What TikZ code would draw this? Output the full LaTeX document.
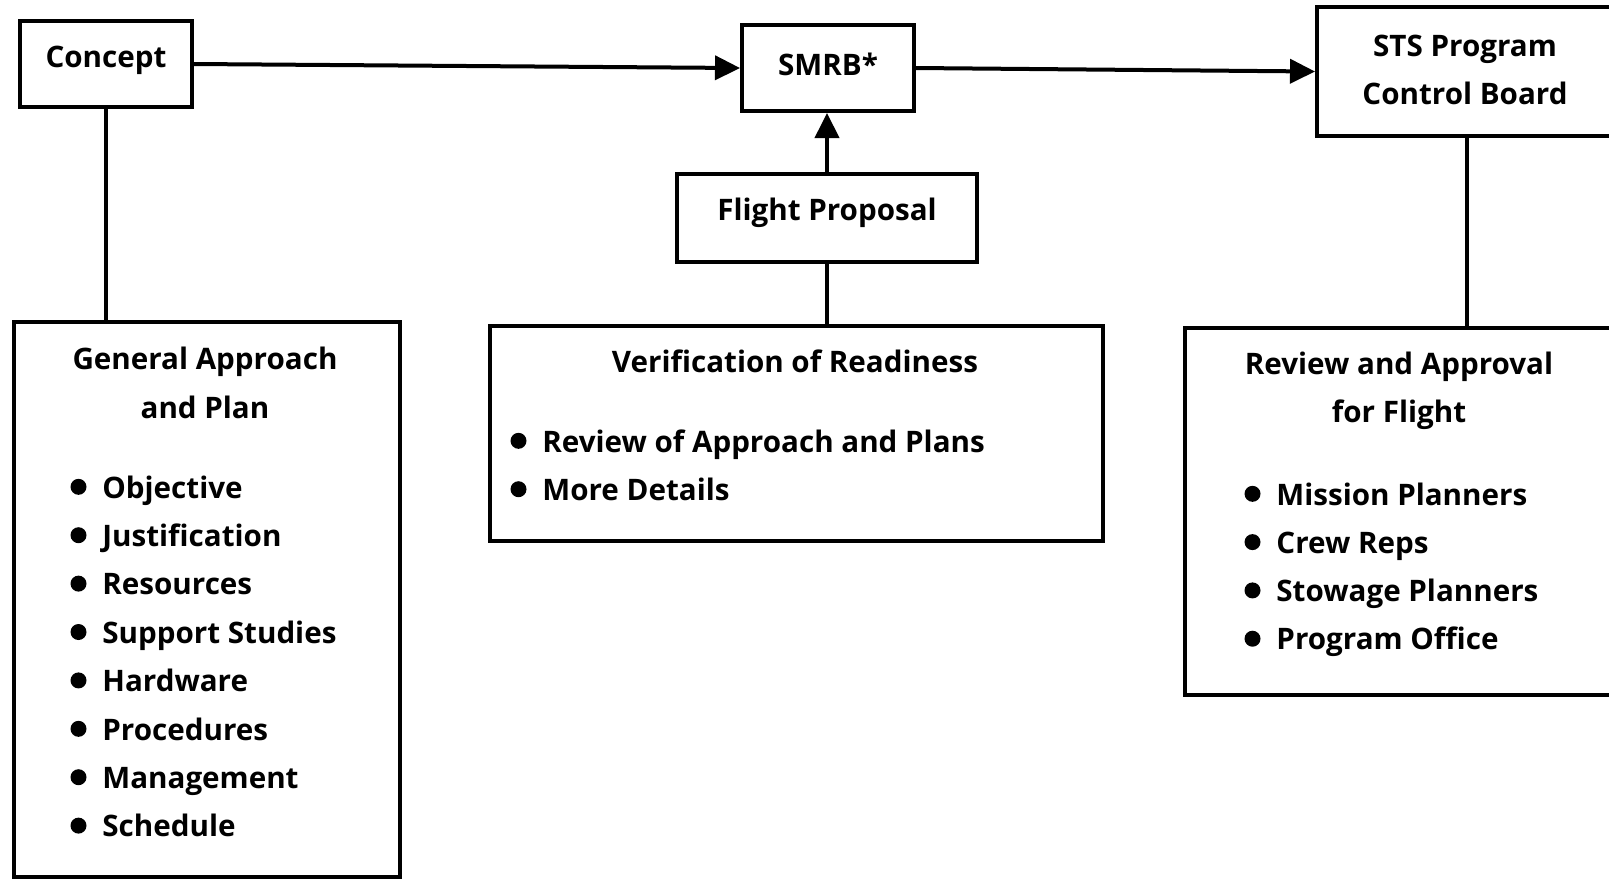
\documentclass[tikz,border=0pt]{standalone}
\usepackage{fontspec}
\setmainfont{Open Sans}
\usetikzlibrary{arrows.meta}

\begin{document}
\begin{tikzpicture}[x=0.5pt, y=-0.5pt,
  boxnode/.style={draw, line width=2pt, inner sep=0pt},
  lbl/.style={font=\fontsize{14.8}{24.2}\selectfont\bfseries, inner sep=0pt},
  item/.style={lbl, anchor=base west},
  flow/.style={line width=2pt, -{Triangle[length=12.5pt, width=12pt]}},
  link/.style={line width=2pt}]
\useasboundingbox (0,0) rectangle (1609,879);
\clip (0,0) rectangle (1609,879);

% Top row boxes
\node[boxnode, minimum width=86pt, minimum height=43pt] (concept) at (106,64) {};
\node[lbl] (concepttxt) at (106,60) {Concept};
\node[boxnode, minimum width=86pt, minimum height=43pt] (smrb) at (828,68) {};
\node[lbl] (smrbtxt) at (828,64) {SMRB*};
\node[boxnode, minimum width=151.5pt, minimum height=64.5pt] (sts) at (1468.5,71.5) {};
\node[lbl, align=center] (ststxt) at (1465,70) {STS Program\\Control Board};

% Flight proposal
\node[boxnode, minimum width=150pt, minimum height=44pt] (flight) at (827,218) {};
\node[lbl] (flighttxt) at (827,213) {Flight Proposal};

% Lower boxes
\node[boxnode, minimum width=193pt, minimum height=277.5pt] (general) at (207,599.5) {};
\node[lbl, align=center] (gentitle) at (205,383) {General Approach\\and Plan};
\foreach \txt [count=\i] in {Objective, Justification, Resources, Support Studies, Hardware, Procedures, Management, Schedule} {
  \node[item] (gen\i) at (102,{498+48.4*(\i-1)}) {\txt};
  \fill ([xshift=-11.75pt, yshift=5.6pt]gen\i.base west) circle (8);
}

\node[boxnode, minimum width=306.5pt, minimum height=107.5pt] (verif) at (796.5,433.5) {};
\node[lbl] (veriftitle) at (795,361) {Verification of Readiness};
\foreach \txt [count=\i] in {Review of Approach and Plans, More Details} {
  \node[item] (ver\i) at (542,{452+48.4*(\i-1)}) {\txt};
  \fill ([xshift=-11.75pt, yshift=5.6pt]ver\i.base west) circle (8);
}

\node[boxnode, minimum width=227.5pt, minimum height=183.5pt] (review) at (1412.5,511.5) {};
\node[lbl, align=center] (revtitle) at (1399,391) {Review and Approval\\for Flight};
\foreach \txt [count=\i] in {Mission Planners, Crew Reps, Stowage Planners, Program Office} {
  \node[item] (rev\i) at (1276,{505+48.3*(\i-1)}) {\txt};
  \fill ([xshift=-11.75pt, yshift=5.6pt]rev\i.base west) circle (8);
}

% Connectors
\draw[flow] (concept.east) -- (smrb.west);
\draw[flow] (smrb.east) -- (sts.west);
\draw[flow] (flight.north) -- (flight.north |- smrb.south);
\draw[link] (concept.south) -- (general.north -| concept.south);
\draw[link] (flight.south) -- (verif.north -| flight.south);
\draw[link] (sts.south -| 1467,0) -- (review.north -| 1467,0);
\end{tikzpicture}
\end{document}
